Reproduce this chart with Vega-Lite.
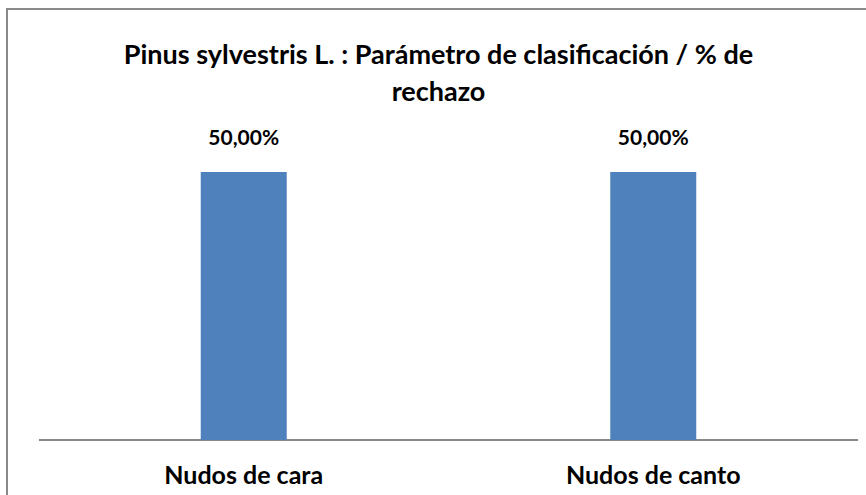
{
  "$schema": "https://vega.github.io/schema/vega-lite/v6.json",
  "autosize": "none",
  "width": 863,
  "height": 489,
  "padding": {"left": 7, "top": 9, "right": -4, "bottom": -3},
  "background": "white",
  "config": {
    "view": {"stroke": "#898989", "strokeWidth": 2},
    "font": "Lato",
    "locale": {"number": {"decimal": ",", "thousands": ".", "grouping": [3], "currency": ["", " €"]}}
  },
  "title": {
    "text": ["Pinus sylvestris L. : Parámetro de clasificación / % de", "rechazo"],
    "fontSize": 27,
    "fontWeight": "bold",
    "color": "black",
    "anchor": "middle",
    "frame": "group",
    "baseline": "alphabetic",
    "offset": -119,
    "lineHeight": 37
  },
  "data": {
    "values": [
      {"parametro": "Nudos de cara", "rechazo": 0.5},
      {"parametro": "Nudos de canto", "rechazo": 0.5}
    ]
  },
  "encoding": {
    "x": {
      "field": "parametro",
      "type": "nominal",
      "sort": null,
      "scale": {"paddingInner": 0, "paddingOuter": 0.0537, "align": 0.7273},
      "axis": {
        "title": null,
        "domain": false,
        "ticks": false,
        "tickSize": 0,
        "labelAngle": 0,
        "labelFontSize": 25,
        "labelFontWeight": "bold",
        "labelColor": "black",
        "labelBaseline": "alphabetic",
        "labelPadding": 43,
        "offset": -58,
        "grid": false
      }
    },
    "y": {
      "field": "rechazo",
      "type": "quantitative",
      "scale": {"domain": [-0.1082, 0.8041], "nice": false, "zero": false},
      "axis": null
    }
  },
  "layer": [
    {
      "mark": {"type": "rule", "color": "#898989", "strokeWidth": 2},
      "encoding": {
        "x": {"datum": "Nudos de cara", "type": "nominal", "bandPosition": 0},
        "x2": {"datum": "Nudos de canto", "bandPosition": 1},
        "y": {"datum": 0, "type": "quantitative"}
      }
    },
    {
      "mark": {"type": "bar", "color": "#4F81BD", "width": {"band": 0.21}}
    },
    {
      "mark": {"type": "text", "dy": -27, "baseline": "alphabetic", "fontSize": 21, "fontWeight": "bold", "color": "black"},
      "encoding": {
        "text": {"field": "rechazo", "type": "quantitative", "format": ".2%"}
      }
    }
  ]
}
